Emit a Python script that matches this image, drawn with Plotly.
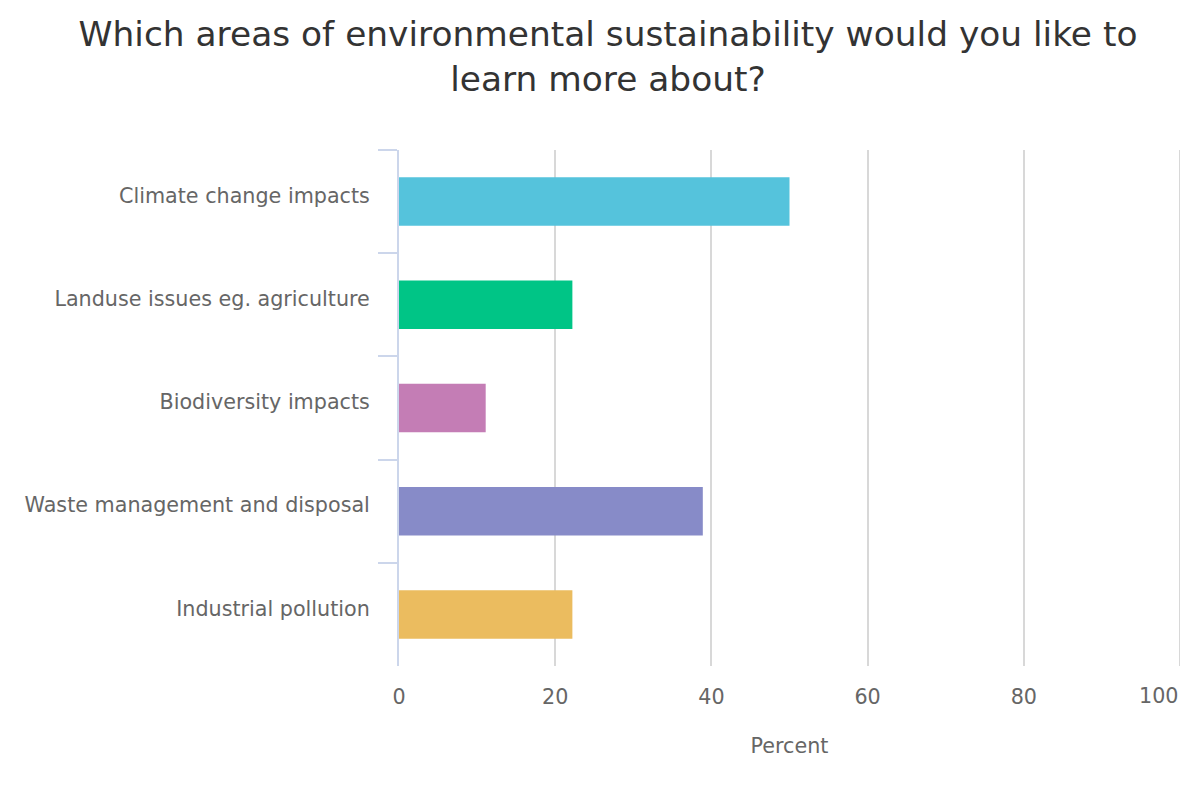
import plotly.graph_objects as go

categories = ["Climate change impacts", "Landuse issues eg. agriculture", "Biodiversity impacts",
              "Waste management and disposal", "Industrial pollution"]
values = [50.0, 22.2, 11.1, 38.9, 22.2]
colors = ["#55c3dc", "#00c586", "#c47db5", "#878bc8", "#ebbc5f"]
x_ticks = [0, 20, 40, 60, 80, 100]

fig = go.Figure(go.Bar(
    x=values, y=categories, orientation="h",
    marker=dict(color=colors, line=dict(width=0)),
    width=0.47, hoverinfo="x+y",
))

fig.update_layout(
    width=1200, height=800,
    plot_bgcolor="white", paper_bgcolor="white",
    font=dict(family="DejaVu Sans", color="#666666"),
    title=dict(text="Which areas of environmental sustainability would you like to<br>learn more about?",
               x=0.5, xanchor="center", y=1 - 38 / 800, yanchor="middle", yref="container",
               font=dict(size=34.4, color="#333333", family="DejaVu Sans")),
    margin=dict(l=391, r=28, t=142, b=142, autoexpand=False),
    showlegend=False,
)
fig.update_xaxes(range=[0, 100], tickvals=x_ticks[:-1], showgrid=True, gridcolor="#d8d8d8", gridwidth=2,
                 zeroline=False, showline=False, ticks="", automargin=False, ticklabelstandoff=16,
                 tickfont=dict(size=20.7, color="#666666"),
                 title=dict(text="Percent", font=dict(size=20.7, color="#666666"), standoff=30))
# last gridline (100) and its label, shifted left like the reference
fig.add_shape(type="line", xref="x", yref="paper", x0=x_ticks[-1], x1=x_ticks[-1], y0=0, y1=1,
              line=dict(color="#d8d8d8", width=2), layer="below")
fig.add_annotation(x=x_ticks[-1], xref="x", y=0, yref="paper", text=str(x_ticks[-1]), showarrow=False,
                   xanchor="right", yanchor="middle", yshift=-30, xshift=1,
                   font=dict(size=20.7, color="#666666", family="DejaVu Sans"))
fig.update_yaxes(autorange="reversed", categoryorder="array", categoryarray=categories,
                 showline=True, linecolor="#ccd6eb", linewidth=2, ticks="outside", tickson="boundaries",
                 ticklen=19, tickcolor="#ccd6eb", tickwidth=2, showgrid=False, automargin=False,
                 tickfont=dict(size=20.7, color="#666666"), ticklabelstandoff=23, ticklabelshift=6)

fig.write_html("out.html")
